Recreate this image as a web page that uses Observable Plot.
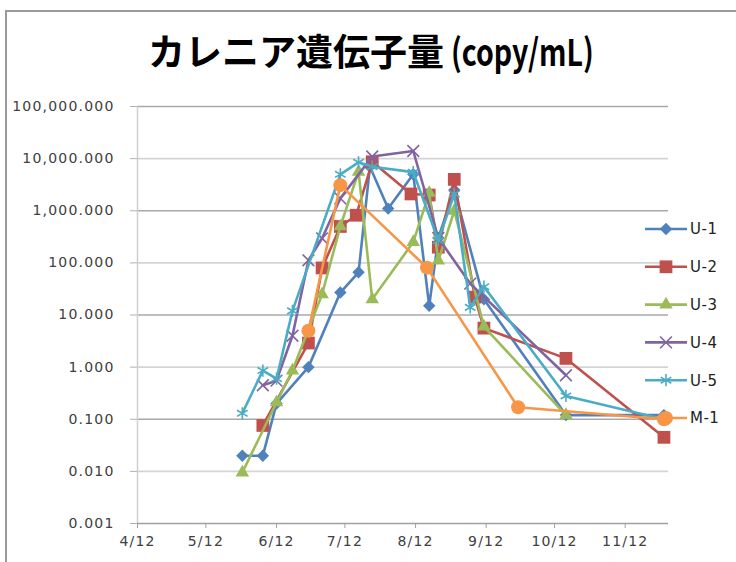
<!DOCTYPE html>
<html>
<head>
<meta charset="utf-8">
<script src="https://cdn.jsdelivr.net/npm/d3@7"></script>
<script src="https://cdn.jsdelivr.net/npm/@observablehq/plot@0.6"></script>
<style>
  html, body { margin: 0; padding: 0; background: #fff; }
  body { width: 736px; height: 562px; overflow: hidden; position: relative; font-family: "DejaVu Sans", sans-serif; }
  #frame { position: absolute; left: 5px; top: 10px; width: 800px; height: 700px; border-left: 2px solid #9a9a9a; border-top: 2px solid #9a9a9a; }
  #title { position: relative; height: 95px; box-sizing: border-box; padding-top: 31px; padding-left: 148px; white-space: nowrap;
           font-family: "Noto Sans CJK JP", sans-serif; font-weight: 700; font-size: 37px; line-height: 38px; color: #000; }
  #title .lat { display: inline-block; transform: scaleX(0.77); transform-origin: 0 50%; margin-left: 7px; }
  #chart { position: relative; }
  #chart svg text { font-size: 14px !important; letter-spacing: 1.2px; fill: #404040; }
  #legend { position: absolute; left: 0; top: 0; pointer-events: none; }
</style>
</head>
<body>
<div id="frame"></div>
<div id="title">カレニア遺伝子量<span class="lat">(copy/mL)</span></div>
<div id="chart"></div>
<script>
// ---- data ----
const seriesNames   = ["U-1", "U-2", "U-3", "U-4", "U-5", "M-1"];
const seriesColors  = ["#4F81BD", "#C0504D", "#9BBB59", "#8064A2", "#4BACC6", "#F79646"];
const seriesSymbols = ["diamond2", "square", "triangle", "times", "asterisk", "circle"];

const u1Dates  = ["2012-05-28","2012-06-06","2012-06-12","2012-06-26","2012-07-10","2012-07-18","2012-07-23","2012-07-31","2012-08-11","2012-08-18","2012-08-22","2012-08-29","2012-09-11","2012-10-17","2012-11-29"];
const u1Values = [0.02, 0.02, 0.2, 1.0, 27, 66, 7000, 1100, 5000, 15, 300, 2500, 20, 0.12, 0.12];

const u2Dates  = ["2012-06-06","2012-06-26","2012-07-02","2012-07-10","2012-07-17","2012-07-24","2012-08-10","2012-08-18","2012-08-22","2012-08-29","2012-09-07","2012-09-11","2012-10-17","2012-11-29"];
const u2Values = [0.076, 2.9, 80, 500, 820, 8700, 2100, 2000, 200, 4000, 22, 5.6, 1.47, 0.045];

const u3Dates  = ["2012-05-28","2012-06-12","2012-06-19","2012-07-02","2012-07-10","2012-07-18","2012-07-24","2012-08-11","2012-08-18","2012-08-22","2012-08-29","2012-09-11","2012-10-17"];
const u3Values = [0.0095, 0.21, 0.86, 25, 500, 5600, 20, 250, 2200, 110, 1000, 6, 0.12];

const u4Dates  = ["2012-06-06","2012-06-12","2012-06-19","2012-06-26","2012-07-02","2012-07-10","2012-07-24","2012-08-11","2012-08-22","2012-09-05","2012-10-17"];
const u4Values = [0.45, 0.55, 4, 112, 296, 1730, 11000, 14000, 300, 40, 0.7];

const u5Dates  = ["2012-05-28","2012-06-06","2012-06-12","2012-06-19","2012-07-10","2012-07-18","2012-07-24","2012-08-11","2012-08-22","2012-08-29","2012-09-05","2012-09-11","2012-10-17","2012-11-29"];
const u5Values = [0.13, 0.86, 0.6, 12, 5000, 8500, 7000, 5500, 270, 2100, 14, 35, 0.28, 0.1];

const m1Dates  = ["2012-06-26","2012-07-10","2012-08-17","2012-09-26","2012-11-29"];
const m1Values = [5.0, 3100, 81, 0.17, 0.1];

const xTickDates  = ["2012-04-12","2012-05-12","2012-06-12","2012-07-12","2012-08-12","2012-09-12","2012-10-12","2012-11-12"];
const xTickLabels = ["4/12","5/12","6/12","7/12","8/12","9/12","10/12","11/12"];
const xDomain     = ["2012-04-12","2012-12-01"];
const yTicks      = [0.001, 0.01, 0.1, 1, 10, 100, 1000, 10000, 100000];

// ---- build table ----
const allDates  = [u1Dates, u2Dates, u3Dates, u4Dates, u5Dates, m1Dates];
const allValues = [u1Values, u2Values, u3Values, u4Values, u5Values, m1Values];
const rows = [];
seriesNames.forEach((name, s) => {
  allDates[s].forEach((d, i) => rows.push({series: name, date: new Date(d), value: allValues[s][i]}));
});
const xTicks = xTickDates.map(d => new Date(d));

const darkGrid  = yTicks.filter((d, i) => i % 2 === 0 && i > 0);
const lightGrid = yTicks.filter((d, i) => i % 2 === 1);

const rBy = {diamond2: 5.6, square: 7.2, triangle: 5.0, times: 5.4, asterisk: 5.8, circle: 7.0};
const seriesMarks = [];
seriesNames.forEach((name, s) => {
  const data = rows.filter(r => r.series === name);
  const sym = seriesSymbols[s];
  const stroked = (sym === "times" || sym === "asterisk");
  seriesMarks.push(Plot.line(data, {x: "date", y: "value", stroke: seriesColors[s], strokeWidth: 2.6, strokeLinejoin: "round"}));
  seriesMarks.push(Plot.dot(data, stroked
    ? {x: "date", y: "value", symbol: () => sym, r: rBy[sym], stroke: seriesColors[s], strokeWidth: 1.6, fill: "none"}
    : {x: "date", y: "value", symbol: () => sym, r: rBy[sym], fill: seriesColors[s], stroke: "none"}));
});

const chart = Plot.plot({
  width: 736,
  height: 467,
  marginLeft: 137,
  marginRight: 68,
  marginTop: 11,
  marginBottom: 39,
  style: {fontFamily: "DejaVu Sans, sans-serif", background: "transparent", overflow: "visible"},
  x: {type: "utc", domain: xDomain.map(d => new Date(d))},
  y: {type: "log", domain: [0.001, 100000]},
  symbol: {type: "identity"},
  marks: [
    Plot.ruleY(lightGrid, {stroke: "#d4d4d4", strokeWidth: 1.6}),
    Plot.ruleY(darkGrid, {stroke: "#a8a8a8", strokeWidth: 1.6}),
    Plot.ruleX([new Date(xDomain[0])], {stroke: "#d0d0d0", strokeWidth: 1.5}),
    Plot.ruleY([0.001], {stroke: "#a0a0a0", strokeWidth: 1.5}),
    Plot.axisY({ticks: yTicks, tickFormat: d3.format(",.3f"), tickSize: 7, tickPadding: 16, stroke: "#b0b0b0", label: null}),
    Plot.axisX({ticks: xTicks, tickFormat: d => xTickLabels[xTicks.findIndex(t => +t === +d)], tickSize: 5, tickPadding: 8,
                stroke: "#a0a0a0", label: null}),
    ...seriesMarks
  ]
});
document.getElementById("chart").appendChild(chart);

// ---- legend ----
const legend = d3.select("body").append("svg").attr("id", "legend").attr("width", 736).attr("height", 562);
const symbolMap = {diamond2: d3.symbolDiamond2, square: d3.symbolSquare, triangle: d3.symbolTriangle,
                   times: d3.symbolTimes, asterisk: d3.symbolAsterisk, circle: d3.symbolCircle};
seriesNames.forEach((name, i) => {
  const y = 229 + i * 37.8;
  const g = legend.append("g");
  g.append("line").attr("x1", 645).attr("x2", 687).attr("y1", y).attr("y2", y)
    .attr("stroke", seriesColors[i]).attr("stroke-width", 2.6);
  const sym = seriesSymbols[i];
  const stroked = (sym === "times" || sym === "asterisk");
  const r = rBy[sym];
  const p = g.append("path").attr("transform", `translate(666,${y})`)
    .attr("d", d3.symbol(symbolMap[sym], Math.PI * r * r)());
  if (stroked) p.attr("fill", "none").attr("stroke", seriesColors[i]).attr("stroke-width", 1.6);
  else p.attr("fill", seriesColors[i]);
  g.append("text").attr("x", 690).attr("y", y).attr("dy", "0.36em")
    .attr("font-family", "DejaVu Sans, sans-serif").attr("font-size", 15).attr("letter-spacing", 0.5)
    .attr("fill", "#222").text(name);
});
</script>
</body>
</html>
